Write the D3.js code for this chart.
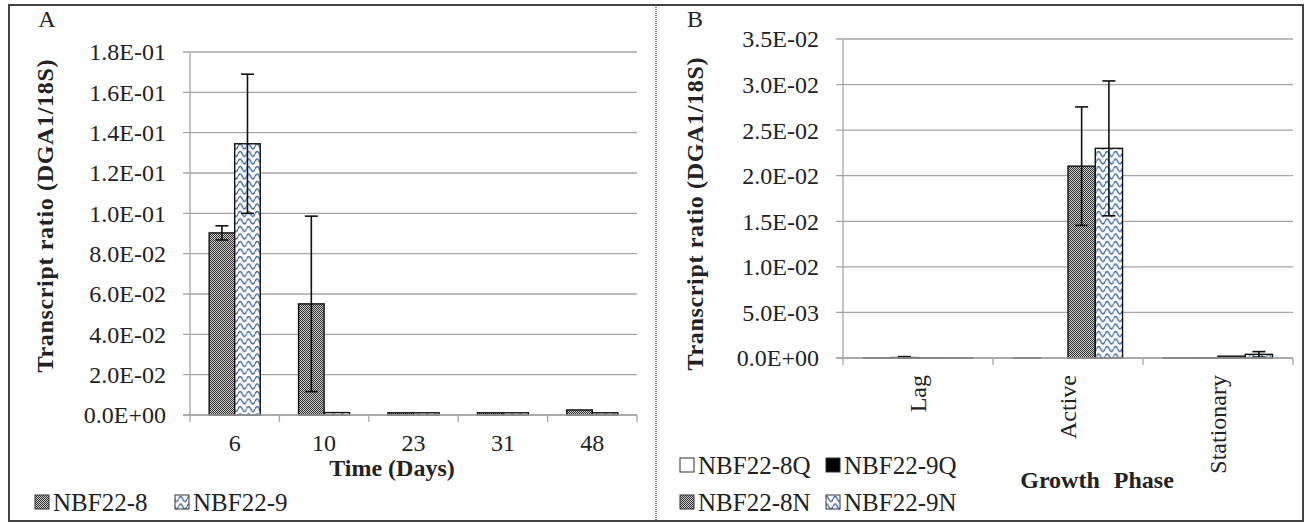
<!DOCTYPE html>
<html><head><meta charset="utf-8">
<script src="https://cdn.jsdelivr.net/npm/d3@7"></script>
<style>body{margin:0;background:#fff}svg{display:block}text{font-family:"Liberation Serif","Times New Roman",serif;fill:#222}</style>
</head><body><svg id="c" width="1305" height="523"></svg>
<script>
// ---- Panel A data ----
const catsA = ["6", "10", "23", "31", "48"];
const namesA = ["NBF22-8", "NBF22-9"];
const valsA8 = [0.0903, 0.0551, 0.0011, 0.0011, 0.0025];
const errA8  = [0.0035, 0.0435, 0, 0, 0];
const valsA9 = [0.1345, 0.0012, 0.0011, 0.0011, 0.0011];
const errA9  = [0.0345, 0, 0, 0, 0];
const ticksA = [0, 0.02, 0.04, 0.06, 0.08, 0.10, 0.12, 0.14, 0.16, 0.18];

// ---- Panel B data ----
const catsB = ["Lag", "Active", "Stationary"];
const namesB = ["NBF22-8Q", "NBF22-9Q", "NBF22-8N", "NBF22-9N"];
const valsB8Q = [0.00002, 0.00002, 0.00002];
const errB8Q  = [0, 0, 0];
const valsB9Q = [0.00005, 0, 0.00002];
const errB9Q  = [0.0001, 0, 0];
const valsB8N = [0.00002, 0.02105, 0.0002];
const errB8N  = [0, 0.0065, 0];
const valsB9N = [0.00002, 0.0230, 0.0004];
const errB9N  = [0, 0.0074, 0.0003];
const ticksB = [0, 0.005, 0.010, 0.015, 0.020, 0.025, 0.030, 0.035];

const svg = d3.select("#c");
const defs = svg.append("defs");
// stipple pattern (1px checkerboard)
const ps = defs.append("pattern").attr("id","stip").attr("patternUnits","userSpaceOnUse").attr("width",2).attr("height",2);
ps.append("rect").attr("width",2).attr("height",2).attr("fill","#d4d4d4");
ps.append("rect").attr("width",1).attr("height",1).attr("fill","#2a2a2a");
ps.append("rect").attr("x",1).attr("y",1).attr("width",1).attr("height",1).attr("fill","#2a2a2a");
// wave pattern
const pw = defs.append("pattern").attr("id","wave").attr("patternUnits","userSpaceOnUse").attr("width",8.5).attr("height",7.5);
pw.append("rect").attr("width",8.5).attr("height",7.5).attr("fill","#fff");
pw.append("path").attr("d","M0,4 Q1.06,1.5 2.125,1.5 Q3.19,1.5 4.25,4 Q5.31,6.5 6.375,6.5 Q7.44,6.5 8.5,4")
  .attr("fill","none").attr("stroke","#35609f").attr("stroke-width",1.4);

function sci(v){
  if (v === 0) return "0.0E+00";
  let e = Math.floor(Math.log10(v) + 1e-9);
  let m = v / Math.pow(10, e);
  return m.toFixed(1) + "E" + (e < 0 ? "-" : "+") + String(Math.abs(e)).padStart(2, "0");
}

function panel(cfg){
  const g = svg.append("g");
  const y = d3.scaleLinear().domain([0, cfg.yMax]).range([cfg.zero, cfg.top]);
  const n = cfg.series.length;
  const pin = 1.5 / (n + 1.5);
  const x = d3.scaleBand().domain(cfg.cats).range([cfg.x0, cfg.x1]).paddingInner(pin).paddingOuter(pin / 2);
  const xs = d3.scaleBand().domain(d3.range(n)).range([0, x.bandwidth()]);
  g.selectAll(".grid").data(cfg.ticks).join("line")
    .attr("x1", cfg.x0 - 7).attr("x2", cfg.x1)
    .attr("y1", d => y(d)).attr("y2", d => y(d))
    .attr("stroke", "#a6a6a6").attr("stroke-width", 1.3);
  g.selectAll(".tl").data(cfg.ticks).join("text")
    .attr("x", cfg.x0 - 24).attr("y", d => y(d)).attr("dy", "0.35em")
    .attr("text-anchor", "end").attr("font-size", 24).text(sci);
  g.append("line").attr("x1", cfg.x0).attr("x2", cfg.x0).attr("y1", cfg.top).attr("y2", cfg.zero)
    .attr("stroke", "#a6a6a6").attr("stroke-width", 1.3);
  const step = x.step();
  g.selectAll(".xt").data(d3.range(cfg.cats.length + 1)).join("line")
    .attr("x1", i => cfg.x0 + i * step).attr("x2", i => cfg.x0 + i * step)
    .attr("y1", cfg.zero).attr("y2", cfg.zero + 7)
    .attr("stroke", "#a6a6a6").attr("stroke-width", 1.3);
  cfg.series.forEach((s, si) => {
    g.selectAll(null).data(s.vals).join("rect")
      .attr("x", (d, i) => x(cfg.cats[i]) + xs(si))
      .attr("width", xs.bandwidth())
      .attr("y", d => y(d)).attr("height", d => cfg.zero - y(d))
      .attr("fill", s.fill).attr("stroke", "#111").attr("stroke-width", 1.4);
  });
  cfg.series.forEach((s, si) => {
    s.vals.forEach((v, i) => {
      const e = s.errs[i];
      if (!e) return;
      const cx = x(cfg.cats[i]) + xs(si) + xs.bandwidth() / 2;
      const eg = g.append("g").attr("stroke", "#111").attr("stroke-width", 1.6);
      eg.append("line").attr("x1", cx).attr("x2", cx).attr("y1", y(v + e)).attr("y2", y(Math.max(0, v - e)));
      eg.append("line").attr("x1", cx - 6.5).attr("x2", cx + 6.5).attr("y1", y(v + e)).attr("y2", y(v + e));
      eg.append("line").attr("x1", cx - 6.5).attr("x2", cx + 6.5).attr("y1", y(Math.max(0, v - e))).attr("y2", y(Math.max(0, v - e)));
    });
  });
  g.append("line").attr("x1", cfg.x0 - 7).attr("x2", cfg.x1).attr("y1", cfg.zero).attr("y2", cfg.zero)
    .attr("stroke", "#a6a6a6").attr("stroke-width", 1.3);
  g.append("text").attr("transform", `translate(${cfg.ytX},${cfg.ytY}) rotate(-90)`)
    .attr("text-anchor", "middle").attr("dy", "0.35em").attr("font-size", 24).attr("font-weight", "bold")
    .attr("textLength", 313).attr("lengthAdjust", "spacing")
    .text("Transcript ratio (DGA1/18S)");
  return {g, x, y};
}

// Panel A
const A = panel({
  cats: catsA, x0: 190, x1: 637, zero: 415, top: 52, yMax: 0.18, ticks: ticksA,
  ytX: 45, ytY: 216,
  series: [
    {vals: valsA8, errs: errA8, fill: "url(#stip)"},
    {vals: valsA9, errs: errA9, fill: "url(#wave)"}
  ]
});
A.g.selectAll(".xl").data(catsA).join("text")
  .attr("x", d => A.x(d) + A.x.bandwidth() / 2).attr("y", 443).attr("dy", "0.35em")
  .attr("text-anchor", "middle").attr("font-size", 24).text(d => d);
A.g.append("text").attr("x", 392).attr("y", 468).attr("dy", "0.35em").attr("text-anchor", "middle")
  .attr("font-size", 24).attr("font-weight", "bold").text("Time (Days)");
A.g.append("text").attr("x", 47).attr("y", 27).attr("text-anchor", "middle").attr("font-size", 24).text("A");
const legA = [{n: namesA[0], f: "url(#stip)", x: 35}, {n: namesA[1], f: "url(#wave)", x: 175}];
legA.forEach(l => {
  A.g.append("rect").attr("x", l.x).attr("y", 495).attr("width", 14).attr("height", 14)
    .attr("fill", l.f).attr("stroke", "#333").attr("stroke-width", 1);
  A.g.append("text").attr("x", l.x + 18).attr("y", 502).attr("dy", "0.35em").attr("font-size", 25).text(l.n);
});

// Panel B
const B = panel({
  cats: catsB, x0: 843, x1: 1293, zero: 358, top: 39, yMax: 0.035, ticks: ticksB,
  ytX: 695, ytY: 214,
  series: [
    {vals: valsB8Q, errs: errB8Q, fill: "#fff"},
    {vals: valsB9Q, errs: errB9Q, fill: "#000"},
    {vals: valsB8N, errs: errB8N, fill: "url(#stip)"},
    {vals: valsB9N, errs: errB9N, fill: "url(#wave)"}
  ]
});
B.g.selectAll(".xl").data(catsB).join("text")
  .attr("transform", d => `translate(${B.x(d) + B.x.bandwidth() / 2},375) rotate(-90)`)
  .attr("dy", "0.35em").attr("text-anchor", "end").attr("font-size", 24).text(d => d);
B.g.append("text").attr("x", 1097).attr("y", 480).attr("dy", "0.35em").attr("text-anchor", "middle")
  .attr("font-size", 24).attr("font-weight", "bold").attr("word-spacing", 8).text("Growth Phase");
B.g.append("text").attr("x", 695).attr("y", 27).attr("text-anchor", "middle").attr("font-size", 24).text("B");
const legB = [
  {n: namesB[0], f: "#fff", x: 680, y: 465},
  {n: namesB[1], f: "#000", x: 826, y: 465},
  {n: namesB[2], f: "url(#stip)", x: 680, y: 502},
  {n: namesB[3], f: "url(#wave)", x: 826, y: 502}
];
legB.forEach(l => {
  B.g.append("rect").attr("x", l.x).attr("y", l.y - 7).attr("width", 14).attr("height", 14)
    .attr("fill", l.f).attr("stroke", "#333").attr("stroke-width", 1);
  B.g.append("text").attr("x", l.x + 18).attr("y", l.y).attr("dy", "0.35em").attr("font-size", 25).text(l.n);
});

// frames
svg.append("rect").attr("x", 9).attr("y", 5).attr("width", 1294).attr("height", 516)
  .attr("fill", "none").attr("stroke", "#444").attr("stroke-width", 2);
svg.append("line").attr("x1", 656).attr("x2", 656).attr("y1", 5).attr("y2", 521)
  .attr("stroke", "#333").attr("stroke-width", 1.3).attr("stroke-dasharray", "1,1");
</script></body></html>
